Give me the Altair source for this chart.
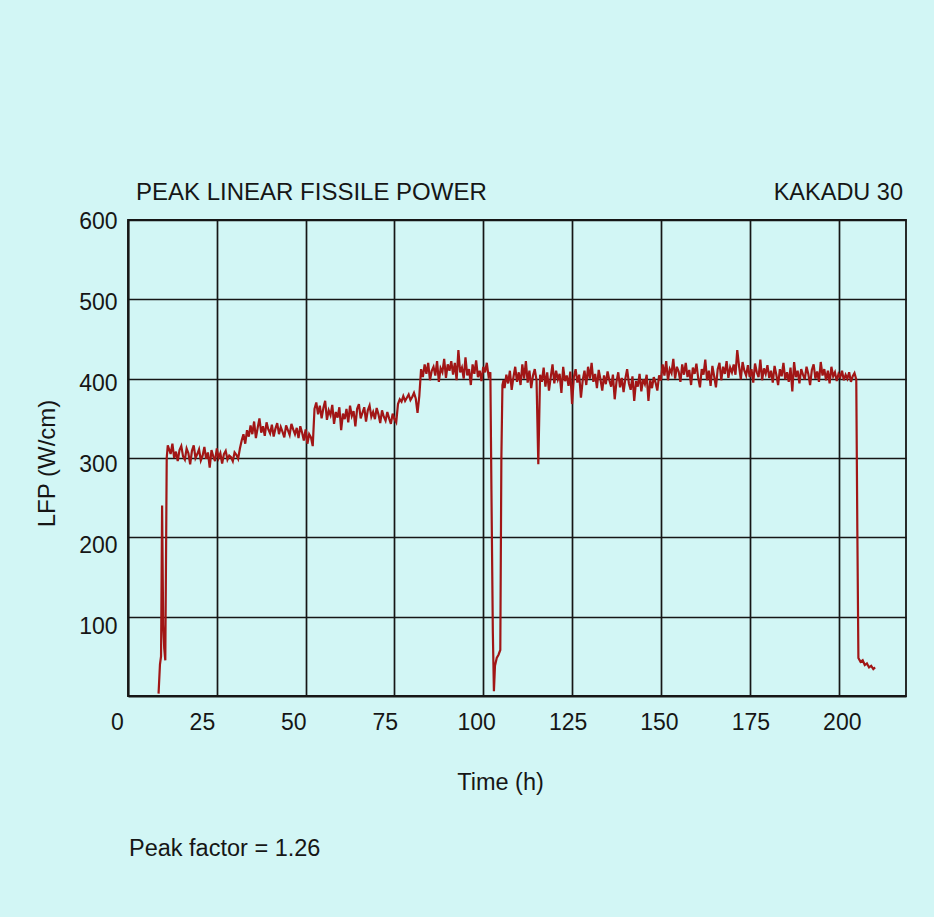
import altair as alt
import pandas as pd

# ---------------- data ----------------
# start-up ramp
ramp_h = [8.6, 9.0, 9.3, 9.6, 9.9, 10.2, 10.5, 10.9, 11.2]
ramp_v = [3, 40, 50, 240, 90, 60, 45, 300, 316]

# first plateau (~305 W/cm)
seg_a_h = [11.5, 12.0, 12.5, 13.0, 13.5, 14.0, 14.5, 15.0, 15.5, 16.0,
           16.5, 17.0, 17.5, 18.0, 18.5, 19.0, 19.5, 20.0, 20.5, 21.0,
           21.5, 22.0, 22.5, 23.0, 23.5, 24.0, 24.5, 25.0, 25.5, 26.0,
           26.5, 27.0, 27.5, 28.0, 28.5, 29.0, 29.5, 30.0, 30.5, 31.0]
seg_a_v = [312, 305, 318, 300, 308, 296, 310, 315, 302, 298,
           312, 306, 292, 309, 316, 300, 305, 311, 297, 303,
           314, 299, 307, 288, 310, 302, 296, 312, 300, 306,
           293, 305, 309, 298, 303, 301, 296, 307, 304, 299]

# second plateau (~335 W/cm)
seg_b_h = [31.5, 32.0, 32.5, 33.0, 33.5, 34.0, 34.5, 35.0, 35.5, 36.0,
           36.5, 37.0, 37.5, 38.0, 38.5, 39.0, 39.5, 40.0, 40.5, 41.0,
           41.5, 42.0, 42.5, 43.0, 43.5, 44.0, 44.5, 45.0, 45.5, 46.0,
           46.5, 47.0, 47.5, 48.0, 48.5, 49.0, 49.5, 50.0, 50.5, 51.0,
           51.5, 52.0]
seg_b_v = [312, 322, 330, 318, 335, 327, 341, 330, 346, 325,
           338, 350, 332, 340, 328, 345, 336, 331, 342, 327,
           337, 344, 330, 339, 333, 326, 341, 335, 329, 343,
           336, 330, 338, 325, 340, 332, 322, 336, 318, 330,
           326, 315]

# third plateau (~358 W/cm)
seg_c_h = [52.5, 53.0, 53.5, 54.0, 54.5, 55.0, 55.5, 56.0, 56.5, 57.0,
           57.5, 58.0, 58.5, 59.0, 59.5, 60.0, 60.5, 61.0, 61.5, 62.0,
           62.5, 63.0, 63.5, 64.0, 64.5, 65.0, 65.5, 66.0, 66.5, 67.0,
           67.5, 68.0, 68.5, 69.0, 69.5, 70.0, 70.5, 71.0, 71.5, 72.0,
           72.5, 73.0, 73.5, 74.0, 74.5, 75.0, 75.5]
seg_c_v = [362, 370, 355, 366, 350, 363, 372, 348, 360, 354,
           367, 343, 358, 351, 364, 335, 356, 349, 362, 345,
           366, 353, 359, 340, 362, 368, 350, 357, 364, 346,
           360, 366, 352, 358, 349, 363, 355, 344, 360, 352,
           347, 358, 350, 343, 356, 349, 345]

# short step (~375 W/cm)
seg_d_h = [76.0, 76.5, 77.0, 77.5, 78.0, 78.5, 79.0, 79.5, 80.0, 80.5,
           81.0, 81.5, 82.0]
seg_d_v = [368, 374, 371, 378, 372, 376, 380, 373, 377, 382,
           375, 357, 378]

# full power before the scram (~410 W/cm)
seg_e_h = [82.5, 83.0, 83.5, 84.0, 84.5, 85.0, 85.5, 86.0, 86.5, 87.0,
           87.5, 88.0, 88.5, 89.0, 89.5, 90.0, 90.5, 91.0, 91.5, 92.0,
           92.5, 93.0, 93.5, 94.0, 94.5, 95.0, 95.5, 96.0, 96.5, 97.0,
           97.5, 98.0, 98.5, 99.0, 99.5, 100.0, 100.5, 101.0, 101.5, 102.0]
seg_e_v = [412, 402, 418, 406, 420, 398, 410, 415, 404, 422,
           396, 413, 408, 425, 401, 418, 410, 422, 405, 420,
           398, 436, 408, 414, 400, 427, 404, 412, 392, 418,
           406, 423, 402, 410, 397, 415, 408, 420, 403, 408]

# shutdown and restart
drop_h = [102.3, 102.7, 103.0, 103.3, 103.8, 104.3, 104.8, 105.1, 105.4]
drop_v = [260, 80, 6, 38, 48, 52, 58, 300, 392]

# after restart (~400 W/cm)
seg_f_h = [105.7, 106.0, 106.5, 107.0, 107.5, 108.0, 108.5, 109.0, 109.5, 110.0,
           110.5, 111.0, 111.5, 112.0, 112.5, 113.0, 113.5, 114.0, 114.5, 115.0,
           115.5, 116.0, 116.5, 117.0, 117.5, 118.0, 118.5, 119.0, 119.5, 120.0,
           120.5, 121.0, 121.5, 122.0, 122.5, 123.0, 123.5, 124.0, 124.5, 125.0,
           125.5, 126.0, 126.5, 127.0, 127.5, 128.0, 128.5, 129.0, 129.5, 130.0,
           130.5, 131.0, 131.5, 132.0, 132.5, 133.0, 133.5, 134.0, 134.5, 135.0,
           135.5, 136.0, 136.5, 137.0, 137.5, 138.0, 138.5, 139.0, 139.5, 140.0,
           140.5, 141.0, 141.5, 142.0, 142.5, 143.0, 143.5, 144.0, 144.5, 145.0,
           145.5, 146.0, 146.5, 147.0, 147.5, 148.0, 148.5, 149.0, 149.5, 150.0]
seg_f_v = [398, 388, 405, 394, 410, 386, 402, 415, 396, 408,
           392, 418, 400, 422, 395, 410, 388, 404, 412, 398,
           292, 405, 396, 414, 390, 408, 385, 402, 418, 394,
           410, 399, 406, 382, 415, 397, 404, 391, 409, 368,
           402, 412, 395, 405, 376, 398, 410, 392, 415, 400,
           420, 396, 406, 388, 411, 399, 385, 404, 393, 409,
           398, 390, 405, 374, 396, 408, 389, 401, 383, 400,
           412, 394, 386, 403, 372, 397, 390, 406, 384, 399,
           393, 405, 372, 398, 388, 402, 395, 385, 404, 398]

# last plateau (~410 W/cm)
seg_g_h = [150.5, 151.0, 151.5, 152.0, 152.5, 153.0, 153.5, 154.0, 154.5, 155.0,
           155.5, 156.0, 156.5, 157.0, 157.5, 158.0, 158.5, 159.0, 159.5, 160.0,
           160.5, 161.0, 161.5, 162.0, 162.5, 163.0, 163.5, 164.0, 164.5, 165.0,
           165.5, 166.0, 166.5, 167.0, 167.5, 168.0, 168.5, 169.0, 169.5, 170.0,
           170.5, 171.0, 171.5, 172.0, 172.5, 173.0, 173.5, 174.0, 174.5, 175.0,
           175.5, 176.0, 176.5, 177.0, 177.5, 178.0, 178.5, 179.0, 179.5, 180.0,
           180.5, 181.0, 181.5, 182.0, 182.5, 183.0, 183.5, 184.0, 184.5, 185.0,
           185.5, 186.0, 186.5, 187.0, 187.5, 188.0, 188.5, 189.0, 189.5, 190.0,
           190.5, 191.0, 191.5, 192.0, 192.5, 193.0, 193.5, 194.0, 194.5, 195.0,
           195.5, 196.0, 196.5, 197.0, 197.5, 198.0, 198.5, 199.0, 199.5, 200.0,
           200.5, 201.0, 201.5, 202.0, 202.5, 203.0, 203.5, 204.0, 204.5, 205.0]
seg_g_v = [418, 404, 422, 398, 412, 407, 425, 400, 415, 409,
           396, 418, 405, 420, 402, 411, 392, 414, 406, 419,
           401, 389, 412, 405, 424, 398, 410, 391, 416, 403,
           389, 412, 420, 398, 415, 406, 422, 401, 414, 408,
           418, 405, 436, 416, 399, 421, 410, 404, 417, 402,
           412, 395, 419, 408, 402, 424, 398, 413, 406, 417,
           401, 410, 395, 416, 405, 392, 412, 403, 420, 399,
           408, 396, 414, 384, 421, 402, 410, 394, 412, 405,
           399, 415, 406, 392, 411, 418, 400, 409, 396, 421,
           404, 412, 398, 410, 394, 415, 403, 408, 397, 406,
           402, 410, 398, 405, 400, 408, 396, 403, 407, 399]

# final shutdown
tail_h = [205.3, 205.6, 206.2, 206.8, 207.4, 208.0, 208.6, 209.2, 209.8, 210.3]
tail_v = [210, 48, 43, 45, 39, 41, 36, 38, 34, 36]

x_ticks = [0, 25, 50, 75, 100, 125, 150, 175, 200]
y_ticks = [100, 200, 300, 400, 500, 600]

header_left = "PEAK LINEAR FISSILE POWER"
header_right = "KAKADU 30"
note_text = "Peak factor = 1.26"
x_title = "Time (h)"
y_title = "LFP (W/cm)"

# ---------------- build table ----------------
hours = ramp_h + seg_a_h + seg_b_h + seg_c_h + seg_d_h + seg_e_h + drop_h + seg_f_h + seg_g_h + tail_h
values = ramp_v + seg_a_v + seg_b_v + seg_c_v + seg_d_v + seg_e_v + drop_v + seg_f_v + seg_g_v + tail_v
df = pd.DataFrame({"hours": hours, "lfp": values})

FONT = "Liberation Sans"
INK = "#161616"

line = alt.Chart(df).mark_line(color="#a11616", strokeWidth=2.2, strokeJoin="miter").encode(
    x=alt.X(
        "hours:Q",
        scale=alt.Scale(domain=[0, 219], nice=False, zero=False),
        axis=alt.Axis(
            values=x_ticks, title=x_title, grid=True, ticks=False, tickSize=0,
            labelFontSize=23, labelFont=FONT, labelColor=INK,
            labelBaseline="alphabetic", labelPadding=33,
            labelOffset={"expr": "datum.value * 0.104 - 17.5"},
            titleFontSize=23.5, titleFont=FONT, titleFontWeight="normal", titleColor=INK,
            titleX=372, titleY=93, titleBaseline="alphabetic", titleAlign="center",
        ),
    ),
    y=alt.Y(
        "lfp:Q",
        scale=alt.Scale(domain=[0, 600], nice=False),
        axis=alt.Axis(
            values=y_ticks, title=y_title, grid=True, ticks=False, tickSize=0,
            labelFontSize=23, labelFont=FONT, labelColor=INK, labelPadding=11,
            labelOffset={"expr": "(600 - datum.value) * 0.018 + 1"},
            titleFontSize=24, titleFont=FONT, titleFontWeight="normal", titleColor=INK,
            titleX=-81, titleY=243, titleBaseline="middle", titleAlign="center",
        ),
    ),
)

title_l = alt.Chart(pd.DataFrame({"t": [header_left]})).mark_text(
    align="left", baseline="alphabetic", fontSize=24, font=FONT, color=INK
).encode(x=alt.value(8), y=alt.value(-20), text="t:N")

title_r = alt.Chart(pd.DataFrame({"t": [header_right]})).mark_text(
    align="right", baseline="alphabetic", fontSize=23.5, font=FONT, color=INK
).encode(x=alt.value(775), y=alt.value(-20), text="t:N")

note = alt.Chart(pd.DataFrame({"t": [note_text]})).mark_text(
    align="left", baseline="alphabetic", fontSize=23.5, font=FONT, color=INK
).encode(x=alt.value(1), y=alt.value(636), text="t:N")

chart = alt.layer(line, title_l, title_r, note).properties(
    width=778,
    height=476,
    autosize=alt.AutoSizeParams(type="none"),
    padding={"left": 128, "top": 220, "right": 28, "bottom": 221},
    background="#d2f6f5",
).configure_view(
    stroke=INK, strokeWidth=1.8
).configure_axis(
    gridColor=INK, gridWidth=1.7, gridOpacity=1,
    domainColor=INK, domainWidth=1.8,
)

chart.save("out.html", embed_options={"renderer": "svg", "actions": False})
